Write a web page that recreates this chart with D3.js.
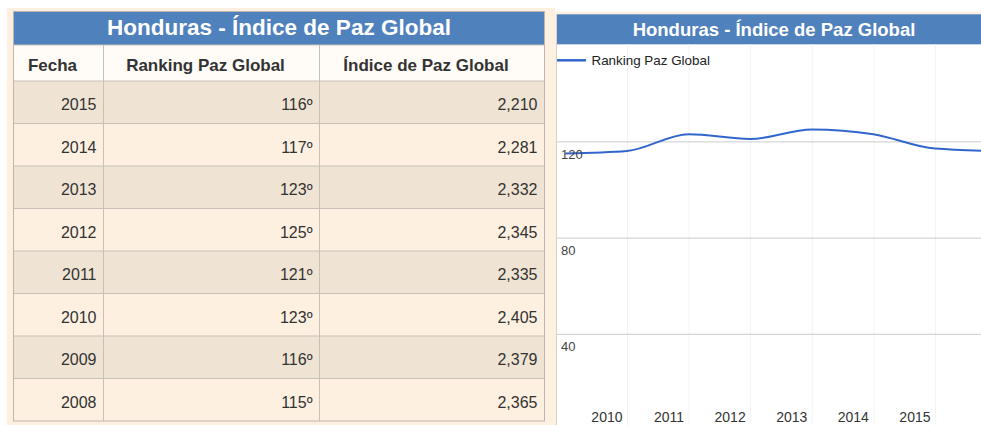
<!DOCTYPE html>
<html>
<head>
<meta charset="utf-8">
<script src="https://cdn.jsdelivr.net/npm/d3@7"></script>
<style>
  html, body { margin: 0; padding: 0; background: #fff; overflow: hidden; }
  svg { display: block; font-family: "Liberation Sans", Arial, sans-serif; }
</style>
</head>
<body>
<div id="chart"></div>
<script>
/* data */
var years = [2015, 2014, 2013, 2012, 2011, 2010, 2009, 2008];
var ranking = [116, 117, 123, 125, 121, 123, 116, 115];
var indice = [2.210, 2.281, 2.332, 2.345, 2.335, 2.405, 2.379, 2.365];
var headers = ["Fecha", "Ranking Paz Global", "Índice de Paz Global"];
var titleText = "Honduras - Índice de Paz Global";
var yTicks = [40, 80, 120];
var xLabelYears = [2010, 2011, 2012, 2013, 2014, 2015];

/* setup */
var iWidth = 981,
    iHeight = 425,
    cream = "#fdf0e0",
    beige = "#efe4d4",
    blue = "#4f81bd",
    lineBlue = "#3366cc",
    cellBorder = "#c9c1b8";

var es = d3.formatLocale({ decimal: ",", thousands: ".", grouping: [3], currency: ["", ""] });
var fmtIdx = es.format(".3f");

var svg = d3.select("#chart").append("svg")
    .attr("width", iWidth)
    .attr("height", iHeight);

/* ---------- table panel ---------- */
svg.append("rect")
    .attr("x", 7).attr("y", 8)
    .attr("width", 548).attr("height", iHeight - 8)
    .attr("fill", cream);

var colEdges = [13.5, 103.5, 319.5, 544.5];
var tLeft = colEdges[0], tRight = colEdges[3];

var rowY = d3.scaleBand()
    .domain(years)
    .range([81, 421]);

var tbl = svg.append("g").attr("class", "table");

// title bar
tbl.append("rect")
    .attr("x", tLeft).attr("y", 11.5)
    .attr("width", tRight - tLeft).attr("height", 33.5)
    .attr("fill", blue);
tbl.append("text")
    .attr("x", (tLeft + tRight) / 2).attr("y", 35)
    .attr("text-anchor", "middle")
    .attr("fill", "#fff")
    .style("font-size", "22.5px").style("font-weight", "bold")
    .text(titleText);

// header row
tbl.append("rect")
    .attr("x", tLeft).attr("y", 45)
    .attr("width", tRight - tLeft).attr("height", 36)
    .attr("fill", "#fffcf7");
tbl.selectAll(".hdr")
    .data(headers)
  .enter().append("text")
    .attr("class", "hdr")
    .attr("x", function (d, i) { return (colEdges[i] + colEdges[i + 1]) / 2 - 6; })
    .attr("y", 71)
    .attr("text-anchor", "middle")
    .attr("fill", "#333")
    .style("font-size", "17px").style("font-weight", "bold")
    .text(function (d) { return d; });

// body rows
var rows = tbl.selectAll(".row")
    .data(years.map(function (y, i) { return { year: y, rank: ranking[i], idx: indice[i], i: i }; }))
  .enter().append("g")
    .attr("class", "row")
    .attr("transform", function (d) { return "translate(0," + rowY(d.year) + ")"; });

rows.append("rect")
    .attr("x", tLeft).attr("width", tRight - tLeft)
    .attr("height", rowY.bandwidth())
    .attr("fill", function (d) { return d.i % 2 === 0 ? beige : cream; });

rows.selectAll("text")
    .data(function (d) { return [d.year, d.rank + "º", fmtIdx(d.idx)]; })
  .enter().append("text")
    .attr("x", function (d, i) { return colEdges[i + 1] - 7; })
    .attr("y", 29)
    .attr("text-anchor", "end")
    .attr("fill", "#333")
    .style("font-size", "16px")
    .text(function (d) { return d; });

// cell borders
tbl.selectAll(".hline")
    .data([45].concat(years.map(function (y) { return rowY(y); })))
  .enter().append("line")
    .attr("x1", tLeft).attr("x2", tRight)
    .attr("y1", function (d) { return d; }).attr("y2", function (d) { return d; })
    .attr("stroke", cellBorder);
tbl.selectAll(".vline")
    .data(colEdges.slice(1, 3))
  .enter().append("line")
    .attr("x1", function (d) { return d; }).attr("x2", function (d) { return d; })
    .attr("y1", 45).attr("y2", 421)
    .attr("stroke", cellBorder);
tbl.append("rect")
    .attr("x", tLeft).attr("y", 11.5)
    .attr("width", tRight - tLeft).attr("height", 421 - 11.5)
    .attr("fill", "none")
    .attr("stroke", "#bdb6ae");

/* ---------- chart panel ---------- */
var cLeft = 557, cTop = 44.3, cRight = 991;

svg.append("rect")
    .attr("x", 553).attr("y", 11.7)
    .attr("width", iWidth - 553).attr("height", iHeight - 11.7)
    .attr("fill", cream);
svg.append("rect")
    .attr("x", cLeft).attr("y", cTop)
    .attr("width", iWidth - cLeft).attr("height", iHeight - cTop)
    .attr("fill", "#fff");
svg.append("rect")
    .attr("x", cLeft).attr("y", 14.3)
    .attr("width", iWidth - cLeft).attr("height", cTop - 14.3)
    .attr("fill", blue);
svg.append("line")
    .attr("x1", cLeft - 0.5).attr("x2", cLeft - 0.5)
    .attr("y1", 14.3).attr("y2", iHeight)
    .attr("stroke", "#d8d2cc");
svg.append("text")
    .attr("x", (cLeft + cRight) / 2).attr("y", 35.7)
    .attr("text-anchor", "middle")
    .attr("fill", "#fff")
    .style("font-size", "18.5px").style("font-weight", "bold")
    .text(titleText);

var data = years.map(function (y, i) { return { year: y, rank: ranking[i] }; })
    .sort(function (a, b) { return a.year - b.year; });

var x = d3.scaleLinear()
    .domain([2008, 2015])
    .range([565.4, 996.6]);

// labels sit one step to the left of the point they name
var xLab = d3.scaleLinear()
    .domain([2009, 2016])
    .range(x.range());

var y = d3.scaleLinear()
    .domain([0, 160])
    .range([430, 45.2]);

svg.append("clipPath").attr("id", "plotClip")
  .append("rect")
    .attr("x", cLeft).attr("y", cTop)
    .attr("width", iWidth - cLeft).attr("height", iHeight - cTop);

var plot = svg.append("g").attr("clip-path", "url(#plotClip)");

// vertical grid + year labels
var xAxis = plot.append("g")
    .attr("transform", "translate(0,430)")
    .call(d3.axisBottom(xLab)
        .tickValues(xLabelYears)
        .tickSize(-(430 - cTop))
        .tickFormat(d3.format("d")));
xAxis.select(".domain").remove();
xAxis.selectAll(".tick line").attr("stroke", "#f3f3f3");
xAxis.selectAll(".tick text")
    .attr("x", -5).attr("y", -8).attr("dy", 0)
    .attr("text-anchor", "end")
    .attr("fill", "#333")
    .style("font-size", "14px");

// horizontal grid
var yGrid = plot.append("g")
    .attr("transform", "translate(" + cLeft + ",0)")
    .call(d3.axisRight(y).tickValues(yTicks).tickSize(iWidth - cLeft).tickFormat(""));
yGrid.select(".domain").remove();
yGrid.selectAll(".tick line").attr("stroke", "#cccccc");

// series line
var line = d3.line()
    .x(function (d) { return x(d.year); })
    .y(function (d) { return y(d.rank); })
    .curve(d3.curveMonotoneX);

plot.append("path")
    .datum(data)
    .attr("d", line)
    .attr("fill", "none")
    .attr("stroke", lineBlue)
    .attr("stroke-width", 2);

// y labels on top of the line
var yLab = plot.append("g")
    .attr("transform", "translate(" + cLeft + ",0)")
    .call(d3.axisRight(y).tickValues(yTicks).tickSize(0).tickFormat(d3.format("d")));
yLab.select(".domain").remove();
yLab.selectAll(".tick text")
    .attr("x", 4).attr("dy", 17)
    .attr("fill", "#444")
    .style("font-size", "13px");

// legend
var legend = svg.append("g").attr("transform", "translate(" + cLeft + ",60.3)");
legend.append("line")
    .attr("x1", 0).attr("x2", 29)
    .attr("stroke", lineBlue).attr("stroke-width", 2.5);
legend.append("text")
    .attr("x", 34.5).attr("y", 4.7)
    .attr("fill", "#222")
    .style("font-size", "13.4px")
    .text("Ranking Paz Global");
</script>
</body>
</html>
